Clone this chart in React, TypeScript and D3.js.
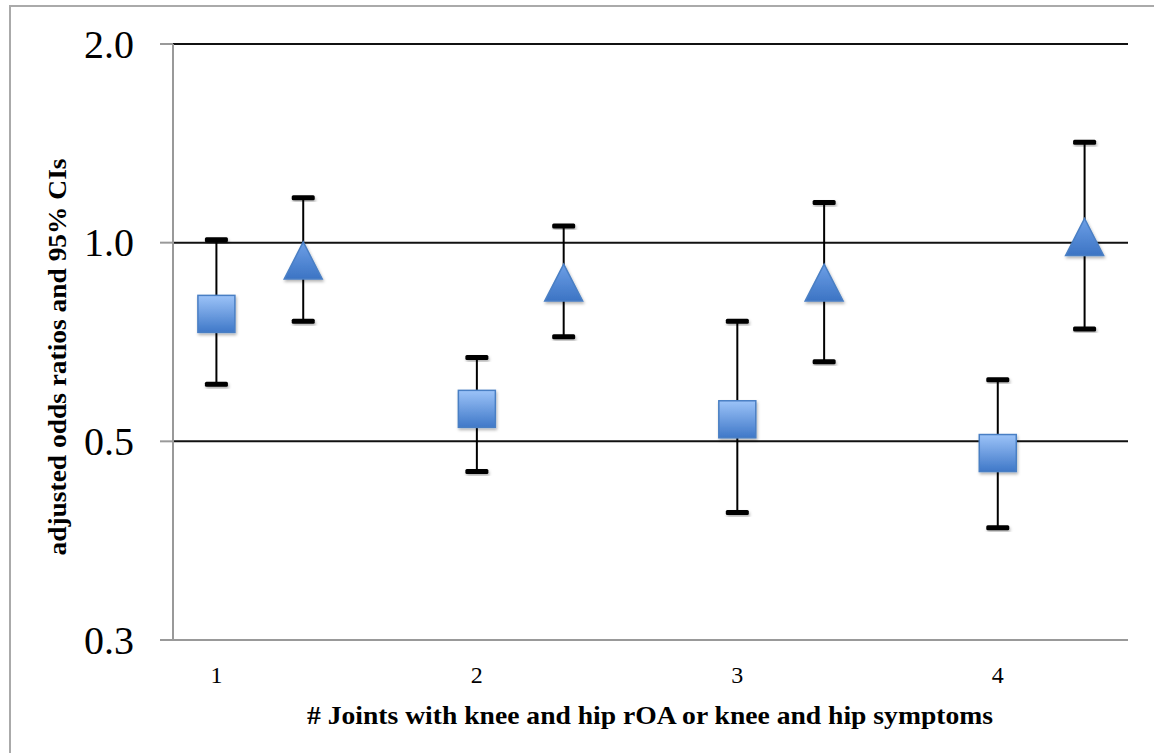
import React from "react";
import * as d3 from "d3";

const categories = [1, 2, 3, 4];
const squareOR = [0.78, 0.56, 0.54, 0.48];
const squareLo = [0.61, 0.45, 0.39, 0.37];
const squareHi = [1.01, 0.67, 0.76, 0.62];
const triOR = [0.94, 0.87, 0.87, 1.02];
const triLo = [0.76, 0.72, 0.66, 0.74];
const triHi = [1.17, 1.06, 1.15, 1.42];
const yTicks = [0.25, 0.5, 1, 2];
const yTickLabels = ["0.3", "0.5", "1.0", "2.0"];
const xTickLabels = ["1", "2", "3", "4"];
const triOffset = 1 / 3;

const W = 1154;
const H = 753;
const left = 173;
const right = 1128;
const top = 44;
const bottom = 640;

export default function App() {
  const x = d3.scaleLinear().domain([5 / 6, 4.5]).range([left, right]);
  const y = d3.scaleLog().base(2).domain([0.25, 2]).range([bottom, top]);
  const capW = 23;
  const capH = 5;
  const sq = 37;
  const triW = 38;
  const triH = 37;
  const serif = "'Liberation Serif', 'DejaVu Serif', serif";

  const series = [
    { or: squareOR, lo: squareLo, hi: squareHi, off: 0, shape: "square" },
    { or: triOR, lo: triLo, hi: triHi, off: triOffset, shape: "triangle" },
  ];

  return (
    <svg
      width={W}
      height={H}
      style={{ position: "absolute", left: 0, top: 0, background: "#fff" }}
    >
      <defs>
        <linearGradient id="gsq" x1="0" y1="0" x2="0" y2="1">
          <stop offset="0%" stopColor="#9cc3f8" />
          <stop offset="100%" stopColor="#3f78c8" />
        </linearGradient>
        <linearGradient id="gtri" x1="0" y1="0" x2="0" y2="1">
          <stop offset="0%" stopColor="#6d9fe6" />
          <stop offset="100%" stopColor="#3c74c4" />
        </linearGradient>
        <filter id="sh" x="-30%" y="-30%" width="160%" height="160%">
          <feDropShadow dx="1" dy="2" stdDeviation="1.5" floodColor="#000" floodOpacity="0.3" />
        </filter>
      </defs>
      <rect x={10} y={6} width={1200} height={800} fill="none" stroke="#aaa" strokeWidth={2} />

      {yTicks.map((t, i) =>
        i === 0 ? null : (
          <line key={"g" + i} x1={left} x2={right} y1={y(t)} y2={y(t)} stroke="#111" strokeWidth={2} />
        )
      )}
      {yTicks.map((t, i) => (
        <line key={"t" + i} x1={160} x2={left} y1={y(t)} y2={y(t)} stroke="#999" strokeWidth={2} />
      ))}
      <line x1={left} x2={left} y1={top} y2={bottom} stroke="#999" strokeWidth={2} />
      <line x1={160} x2={right} y1={bottom} y2={bottom} stroke="#999" strokeWidth={2} />

      {yTicks.map((t, i) => (
        <text
          key={"yl" + i}
          x={134}
          y={y(t) + 13.5}
          textAnchor="end"
          fontFamily={serif}
          fontSize={40}
          fill="#000"
        >
          {yTickLabels[i]}
        </text>
      ))}
      {categories.map((c, i) => (
        <text
          key={"xl" + i}
          x={x(c)}
          y={683}
          textAnchor="middle"
          fontFamily={serif}
          fontSize={24}
          fill="#000"
        >
          {xTickLabels[i]}
        </text>
      ))}

      {series.map((s, si) =>
        categories.map((c, i) => {
          const cx = x(c + s.off);
          return (
            <g key={"e" + si + "-" + i}>
              <line x1={cx} x2={cx} y1={y(s.lo[i])} y2={y(s.hi[i])} stroke="#000" strokeWidth={2} />
              <rect x={cx - capW / 2} y={y(s.hi[i]) - capH / 2} width={capW} height={capH} rx={1.5} fill="#000" filter="url(#sh)" />
              <rect x={cx - capW / 2} y={y(s.lo[i]) - capH / 2} width={capW} height={capH} rx={1.5} fill="#000" filter="url(#sh)" />
            </g>
          );
        })
      )}
      {series.map((s, si) =>
        categories.map((c, i) => {
          const cx = x(c + s.off);
          const cy = y(s.or[i]);
          if (s.shape === "square") {
            return (
              <rect
                key={"m" + si + "-" + i}
                x={cx - sq / 2}
                y={cy - sq / 2}
                width={sq}
                height={sq}
                fill="url(#gsq)"
                stroke="#4a7fc4"
                strokeWidth={1.5}
                filter="url(#sh)"
              />
            );
          }
          const p = `M${cx},${cy - triH / 2} L${cx + triW / 2},${cy + triH / 2} L${cx - triW / 2},${cy + triH / 2} Z`;
          return (
            <path key={"m" + si + "-" + i} d={p} fill="url(#gtri)" stroke="#4a7fc4" strokeWidth={1.5} filter="url(#sh)" />
          );
        })
      )}

      <text
        transform={`translate(66, 357) rotate(-90)`}
        textAnchor="middle"
        fontFamily={serif}
        fontWeight="bold"
        fontSize={25}
        textLength={397}
        lengthAdjust="spacingAndGlyphs"
        fill="#000"
      >
        adjusted odds ratios and 95% CIs
      </text>
      <text
        x={650}
        y={724}
        textAnchor="middle"
        fontFamily={serif}
        fontWeight="bold"
        fontSize={26}
        textLength={686}
        lengthAdjust="spacingAndGlyphs"
        fill="#000"
      >
        # Joints with knee and hip rOA or knee and hip symptoms
      </text>
    </svg>
  );
}
